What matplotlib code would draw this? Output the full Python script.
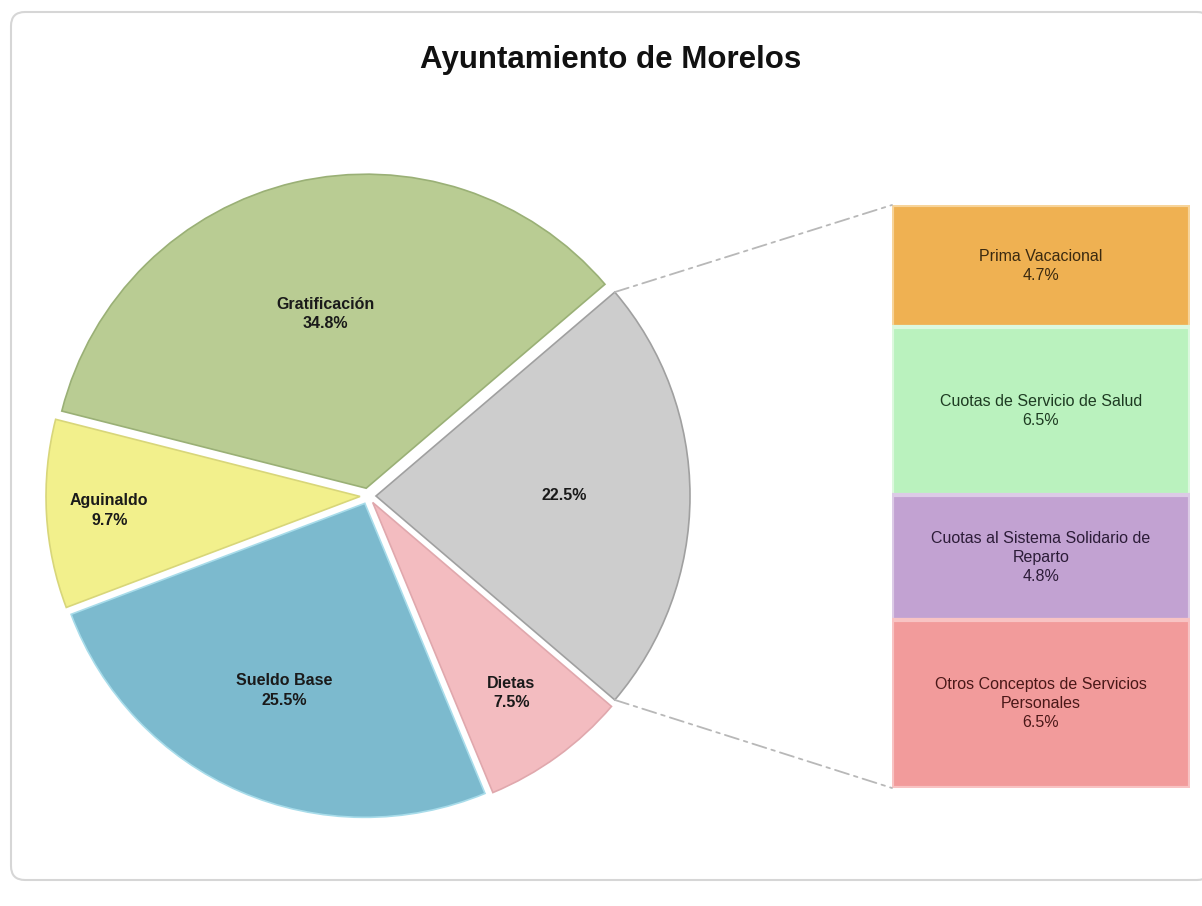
import matplotlib
matplotlib.use("Agg")
import matplotlib.pyplot as plt
import numpy as np
from matplotlib.patches import FancyBboxPatch, ConnectionPatch

# ---------------- data ----------------
title = "Ayuntamiento de Morelos"
pie_labels = ["", "Gratificación", "Aguinaldo", "Sueldo Base", "Dietas"]
pie_values = [22.5, 34.8, 9.7, 25.5, 7.5]
pie_colors = ["#cdcdcd", "#b9cc93", "#f2f08c", "#7cbace", "#f3bcc0"]
pie_edges = ["#a0a0a0", "#9ab076", "#d8d67a", "#a8dcea", "#e0a8ad"]

bar_labels = ["Prima Vacacional", "Cuotas de Servicio de Salud",
              "Cuotas al Sistema Solidario de\nReparto",
              "Otros Conceptos de Servicios\nPersonales"]
bar_values = [4.7, 6.5, 4.8, 6.5]
bar_colors = ["#efb152", "#baf2be", "#c2a2d2", "#f29b9b"]
bar_edges = ["#f7d49a", "#dcf8de", "#dccbe6", "#f8c3c3"]
bar_text_colors = ["#3b2a10", "#1e3b22", "#2c1c38", "#4a1818"]

W, H = 1202, 906
fig = plt.figure(figsize=(W / 100, H / 100), dpi=100)
fig.patch.set_facecolor("white")

ax = fig.add_axes([0, 0, 1, 1])

# pie
cx, cy, R = 368, H - 496, 314
explode = [8] * len(pie_values)
wedges, _ = ax.pie(pie_values, colors=pie_colors, startangle=-40.5,
                   counterclock=True, center=(cx, cy), radius=R,
                   explode=explode, frame=True,
                   wedgeprops=dict(linewidth=1.2))
for w, ec in zip(wedges, pie_edges):
    w.set_edgecolor(ec)
ax.set_xlim(0, W)
ax.set_ylim(0, H)
ax.set_aspect("equal")
ax.axis("off")

# frame
frame = FancyBboxPatch((11, 26), 1200, 868, boxstyle="round,pad=0,rounding_size=14",
                       fc="white", ec="#d6d6d6", lw=1.5, zorder=0)
ax.add_patch(frame)

ax.text(611, H - 60, title, ha="center", va="center", fontsize=22.5,
        fontweight="bold", family="Liberation Sans", color="#111111")

label_dist = [0.60, 0.57, 0.80, 0.65, 0.75]
for w, lab, val, d in zip(wedges, pie_labels, pie_values, label_dist):
    mid = np.deg2rad((w.theta1 + w.theta2) / 2)
    x = w.center[0] + d * R * np.cos(mid)
    y = w.center[1] + d * R * np.sin(mid)
    txt = f"{val}%" if not lab else f"{lab}\n{val}%"
    ax.text(x, y, txt, ha="center", va="center", fontsize=11.5,
            fontweight="bold", family="Liberation Sans", color="#1a1a1a",
            linespacing=1.4)

# stacked bar on separate axes
bx0, bx1, by_top, by_bot = 892, 1190, 205, 788
ax2 = fig.add_axes([bx0 / W, (H - by_bot) / H, (bx1 - bx0) / W, (by_bot - by_top) / H])
ax2.set_xlim(-0.5, 0.5)
ax2.set_ylim(0, sum(bar_values))
ax2.axis("off")
bottoms = sum(bar_values) - np.cumsum(bar_values)
bars = ax2.bar([0] * len(bar_values), bar_values, bottom=bottoms, width=1.0,
               color=bar_colors, edgecolor=bar_edges, linewidth=3)
for b, lab, val, tc in zip(bars, bar_labels, bar_values, bar_text_colors):
    ax2.text(0, b.get_y() + b.get_height() / 2, f"{lab}\n{val}%", ha="center",
             va="center", fontsize=11.5, family="Liberation Sans", color=tc,
             linespacing=1.35)

# connector lines from gray wedge corners to bar corners
g = wedges[0]
for ang, ybar in [(g.theta2, sum(bar_values)), (g.theta1, 0)]:
    a = np.deg2rad(ang)
    px = g.center[0] + R * np.cos(a)
    py = g.center[1] + R * np.sin(a)
    con = ConnectionPatch(xyA=(px, py), coordsA=ax.transData,
                          xyB=(-0.5, ybar), coordsB=ax2.transData,
                          linestyle=(0, (8, 3, 2, 3)), color="#b8b8b8", lw=1.3)
    fig.add_artist(con)

fig.savefig("out.png", dpi=100, facecolor="white")
